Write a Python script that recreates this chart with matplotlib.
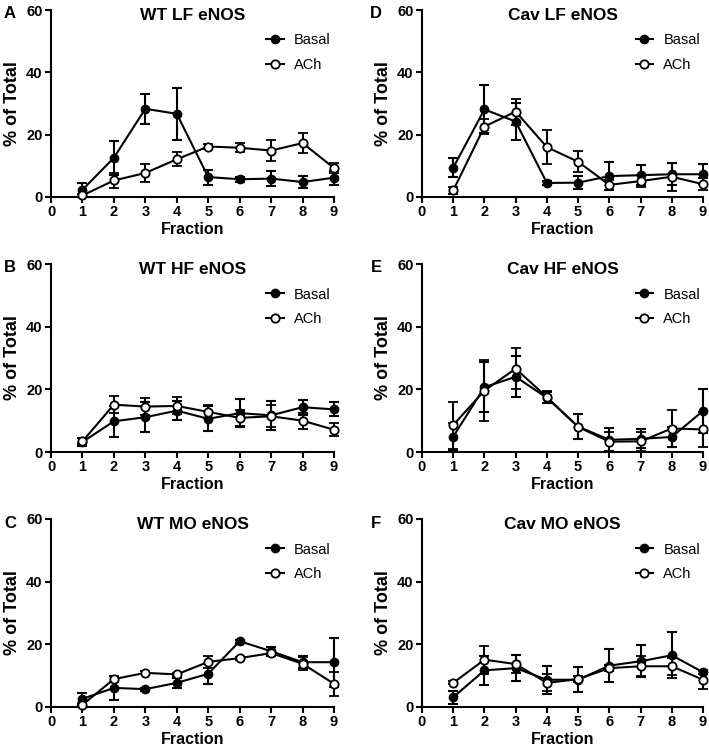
import numpy as np
import matplotlib
matplotlib.use("Agg")
import matplotlib.pyplot as plt
from matplotlib.lines import Line2D

plt.rcParams["font.family"] = ["Liberation Sans", "DejaVu Sans"]

fractions = [1, 2, 3, 4, 5, 6, 7, 8, 9]

# Panel A: WT LF eNOS
wt_lf_basal = [2.3, 12.6, 28.3, 26.7, 6.4, 5.7, 5.9, 4.8, 6.2]
wt_lf_basal_err = [2.2, 5.5, 4.8, 8.3, 2.4, 0.8, 2.4, 2.0, 2.3]
wt_lf_ach = [0.5, 5.3, 7.7, 12.1, 16.2, 15.8, 14.9, 17.3, 9.3]
wt_lf_ach_err = [0.5, 2.4, 3.0, 2.3, 0.8, 1.5, 3.4, 3.2, 1.7]

# Panel B: WT HF eNOS
wt_hf_basal = [3.2, 9.8, 11.1, 13.2, 10.6, 12.4, 11.7, 14.3, 13.6]
wt_hf_basal_err = [1.2, 5.0, 4.7, 3.0, 4.0, 4.5, 4.6, 2.4, 2.2]
wt_hf_ach = [3.4, 15.1, 14.5, 14.7, 12.8, 10.9, 11.4, 10.0, 7.1]
wt_hf_ach_err = [1.0, 2.7, 2.7, 2.7, 2.1, 2.6, 3.5, 2.6, 2.1]

# Panel C: WT MO eNOS
wt_mo_basal = [2.6, 6.1, 5.7, 7.7, 10.6, 21.0, 17.8, 14.3, 14.3]
wt_mo_basal_err = [2.0, 3.8, 0.5, 1.5, 3.2, 0.5, 1.5, 2.0, 7.8]
wt_mo_ach = [0.7, 8.9, 10.9, 10.4, 14.4, 15.6, 17.2, 13.8, 7.4]
wt_mo_ach_err = [0.5, 1.0, 0.5, 0.5, 2.0, 0.5, 1.0, 2.0, 3.8]

# Panel D: Cav LF eNOS
cav_lf_basal = [9.4, 28.1, 24.2, 4.5, 4.6, 6.7, 7.0, 7.3, 7.3]
cav_lf_basal_err = [3.0, 7.7, 5.9, 0.6, 2.1, 4.6, 3.3, 3.5, 3.2]
cav_lf_ach = [2.1, 22.6, 27.4, 16.0, 11.3, 3.9, 5.1, 6.5, 4.1]
cav_lf_ach_err = [1.0, 2.4, 4.2, 5.4, 3.4, 1.5, 2.0, 4.5, 2.0]

# Panel E: Cav HF eNOS
cav_hf_basal = [4.9, 20.7, 24.0, 17.3, 8.1, 3.9, 4.2, 4.8, 13.1]
cav_hf_basal_err = [4.3, 8.0, 6.5, 1.8, 4.0, 3.7, 3.0, 3.2, 6.9]
cav_hf_ach = [8.6, 19.6, 26.6, 17.5, 8.0, 3.3, 3.4, 7.5, 7.2]
cav_hf_ach_err = [7.5, 9.8, 6.6, 2.0, 4.0, 3.0, 3.0, 6.0, 5.7]

# Panel F: Cav MO eNOS
cav_mo_basal = [3.1, 11.7, 12.4, 8.7, 8.7, 13.2, 14.6, 16.5, 11.1]
cav_mo_basal_err = [2.0, 4.6, 4.2, 4.5, 4.0, 5.3, 5.1, 7.3, 0.5]
cav_mo_ach = [7.7, 15.1, 13.7, 7.7, 8.9, 12.4, 13.0, 13.0, 8.7]
cav_mo_ach_err = [0.5, 4.5, 3.0, 2.7, 1.0, 1.0, 3.2, 2.7, 3.0]

panels = [
    ("A", "WT LF eNOS", wt_lf_basal, wt_lf_basal_err, wt_lf_ach, wt_lf_ach_err),
    ("B", "WT HF eNOS", wt_hf_basal, wt_hf_basal_err, wt_hf_ach, wt_hf_ach_err),
    ("C", "WT MO eNOS", wt_mo_basal, wt_mo_basal_err, wt_mo_ach, wt_mo_ach_err),
    ("D", "Cav LF eNOS", cav_lf_basal, cav_lf_basal_err, cav_lf_ach, cav_lf_ach_err),
    ("E", "Cav HF eNOS", cav_hf_basal, cav_hf_basal_err, cav_hf_ach, cav_hf_ach_err),
    ("F", "Cav MO eNOS", cav_mo_basal, cav_mo_basal_err, cav_mo_ach, cav_mo_ach_err),
]

W, H = 709, 750
fig = plt.figure(figsize=(W / 100, H / 100), dpi=100)

# axes boxes in pixels: (left, right) and (top, bottom)
col_x = [(51, 334), (422, 703)]
row_y = [(10, 197), (264, 452), (519, 707)]

# legend handles without error bars
h_basal = Line2D([], [], color="black", lw=1.5, marker="o", ms=6,
                 mfc="black", mec="black")
h_ach = Line2D([], [], color="black", lw=1.5, marker="o", ms=6,
               mfc="white", mec="black", mew=1.3)

for i, (letter, title, b, be, a, ae) in enumerate(panels):
    col, row = i // 3, i % 3
    x0, x1 = col_x[col]
    y0, y1 = row_y[row]
    ax = fig.add_axes([x0 / W, 1 - y1 / H, (x1 - x0) / W, (y1 - y0) / H])

    ax.errorbar(fractions, b, yerr=be, color="black", marker="o", ms=6,
                mfc="black", mec="black", lw=1.5, elinewidth=1.5,
                capsize=3.5, capthick=1.5, clip_on=False, zorder=3)
    ax.errorbar(fractions, a, yerr=ae, color="black", marker="o", ms=6,
                mfc="white", mec="black", mew=1.3, lw=1.5, elinewidth=1.5,
                capsize=3.5, capthick=1.5, clip_on=False, zorder=4)

    ax.set_xlim(0, 9)
    ax.set_ylim(0, 60)
    ax.set_xticks(range(0, 10))
    ax.set_yticks([0, 20, 40, 60])
    for s in ["top", "right"]:
        ax.spines[s].set_visible(False)
    for s in ["left", "bottom"]:
        ax.spines[s].set_linewidth(1.5)
    ax.tick_params(direction="out", length=4, width=1.5, labelsize=10.5, pad=2)
    for lab in ax.get_xticklabels() + ax.get_yticklabels():
        lab.set_fontweight("bold")

    ax.set_ylabel("% of Total", fontsize=13, fontweight="bold", labelpad=4)
    ax.set_xlabel("Fraction", fontsize=11.5, fontweight="bold", labelpad=2)
    ax.text(0.5, 0.972, title, transform=ax.transAxes, ha="center",
            va="center", fontsize=12.5, fontweight="bold")

    ax.legend([h_basal, h_ach], ["Basal", "ACh"], loc="upper left",
              bbox_to_anchor=(0.76, 0.875), frameon=False,
              handlelength=1.2, handletextpad=0.7, labelspacing=0.75,
              borderpad=0, borderaxespad=0, fontsize=10.5)

    lx = 10 if col == 0 else 376
    ly = y0 + 4
    fig.text(lx / W, 1 - ly / H, letter, ha="center", va="center",
             fontsize=12, fontweight="bold")

fig.savefig("out.png", dpi=100)
